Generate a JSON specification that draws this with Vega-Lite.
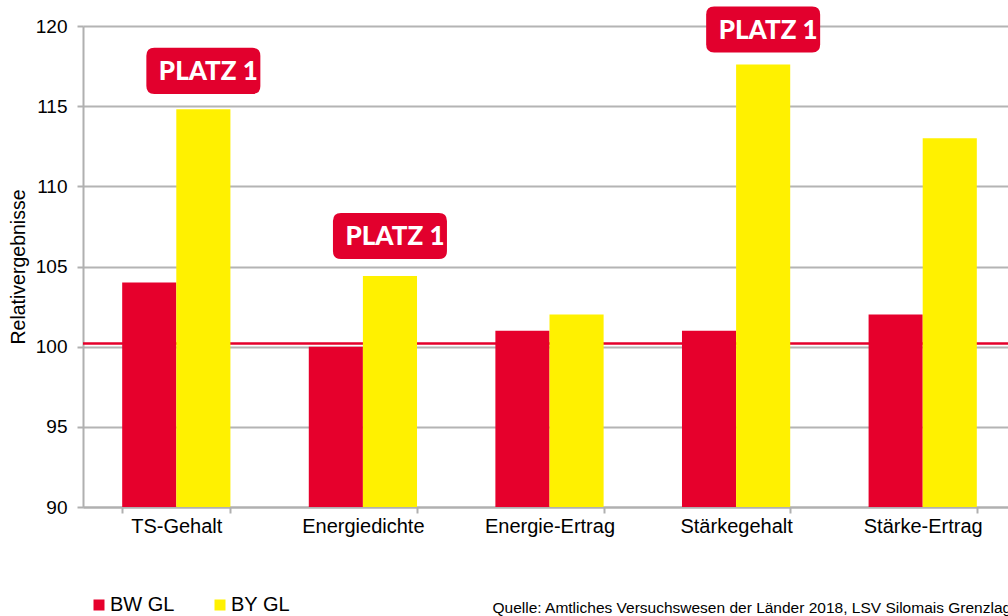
{
  "$schema": "https://vega.github.io/schema/vega-lite/v6.json",
  "width": 925,
  "height": 481,
  "autosize": {"type": "none"},
  "padding": {"left": 83, "top": 26, "right": 0, "bottom": 109},
  "background": "white",
  "config": {
    "font": "Liberation Sans",
    "view": {"stroke": null},
    "axisY": {
      "titleFontSize": 19.5,
      "titleFontWeight": "normal",
      "titleColor": "#000000",
      "titlePadding": 7,
      "labelFontSize": 19,
      "labelColor": "#000000",
      "labelPadding": 10,
      "domainColor": "#b0b0b0",
      "domainWidth": 2,
      "tickColor": "#b0b0b0",
      "tickWidth": 2,
      "tickSize": 6,
      "gridColor": "#b4b4b4",
      "gridWidth": 2
    },
    "axisX": {
      "labelFontSize": 20,
      "labelColor": "#000000",
      "labelPadding": 3,
      "domainColor": "#b0b0b0",
      "domainWidth": 2,
      "tickColor": "#b0b0b0",
      "tickWidth": 2,
      "tickSize": 6
    }
  },
  "datasets": {
    "bars": [
      {"merkmal": "TS-Gehalt", "sorte": "BW GL", "wert": 104.0},
      {"merkmal": "TS-Gehalt", "sorte": "BY GL", "wert": 114.8},
      {"merkmal": "Energiedichte", "sorte": "BW GL", "wert": 100.0},
      {"merkmal": "Energiedichte", "sorte": "BY GL", "wert": 104.4},
      {"merkmal": "Energie-Ertrag", "sorte": "BW GL", "wert": 101.0},
      {"merkmal": "Energie-Ertrag", "sorte": "BY GL", "wert": 102.0},
      {"merkmal": "Stärkegehalt", "sorte": "BW GL", "wert": 101.0},
      {"merkmal": "Stärkegehalt", "sorte": "BY GL", "wert": 117.6},
      {"merkmal": "Stärke-Ertrag", "sorte": "BW GL", "wert": 102.0},
      {"merkmal": "Stärke-Ertrag", "sorte": "BY GL", "wert": 113.0}
    ],
    "badges": [
      {"merkmal": "TS-Gehalt", "sorte": "BY GL", "pos": 117.2, "label": "PLATZ 1"},
      {"merkmal": "Energiedichte", "sorte": "BY GL", "pos": 106.9, "label": "PLATZ 1"},
      {"merkmal": "Stärkegehalt", "sorte": "BY GL", "pos": 119.78, "label": "PLATZ 1"}
    ],
    "ref": [{"wert": 100.2}]
  },
  "encoding": {
    "x": {
      "field": "merkmal",
      "type": "nominal",
      "sort": ["TS-Gehalt", "Energiedichte", "Energie-Ertrag", "Stärkegehalt", "Stärke-Ertrag"],
      "scale": {"range": [0, 933], "paddingInner": 0.42, "paddingOuter": 0.21},
      "axis": {
        "title": "Quelle: Amtliches Versuchswesen der Länder 2018, LSV Silomais Grenzlage",
        "titleFontSize": 15.5,
        "titleFontWeight": "normal",
        "titleColor": "#000000",
        "titleAnchor": "start",
        "titleAlign": "left",
        "titleBaseline": "alphabetic",
        "titleX": 409,
        "titleY": 105.5,
        "labelAngle": 0,
        "tickBand": "extent",
        "grid": false
      }
    }
  },
  "layer": [
    {
      "data": {"name": "ref"},
      "mark": {"type": "rule", "color": "#e4002b", "strokeWidth": 2.5},
      "encoding": {
        "x": null,
        "y": {
          "field": "wert",
          "type": "quantitative",
          "scale": {"domain": [90, 120], "zero": false, "nice": false},
          "axis": {"title": "Relativergebnisse", "values": [90, 95, 100, 105, 110, 115, 120]}
        }
      }
    },
    {
      "data": {"name": "bars"},
      "mark": {"type": "bar"},
      "encoding": {
        "xOffset": {"field": "sorte", "type": "nominal", "scale": {"paddingInner": 0, "paddingOuter": 0}},
        "y": {
          "field": "wert",
          "type": "quantitative",
          "scale": {"domain": [90, 120], "zero": false, "nice": false},
          "axis": {"title": "Relativergebnisse", "values": [90, 95, 100, 105, 110, 115, 120]}
        },
        "y2": {"datum": 90},
        "color": {
          "field": "sorte",
          "type": "nominal",
          "scale": {"domain": ["BW GL", "BY GL"], "range": ["#e6002c", "#fff100"]},
          "legend": {
            "title": null,
            "orient": "none",
            "direction": "horizontal",
            "legendX": 6,
            "legendY": 569,
            "symbolType": "square",
            "symbolSize": 121,
            "symbolStrokeWidth": 0,
            "symbolOpacity": 1,
            "labelFontSize": 20,
            "labelColor": "#000000",
            "labelOffset": 1,
            "columnPadding": 35
          }
        }
      }
    },
    {
      "data": {"name": "badges"},
      "mark": {
        "type": "point",
        "shape": "M -0.86 -0.404 L 0.86 -0.404 Q 1 -0.404 1 -0.264 L 1 0.264 Q 1 0.404 0.86 0.404 L -0.86 0.404 Q -1 0.404 -1 0.264 L -1 -0.264 Q -1 -0.404 -0.86 -0.404 Z",
        "size": 12996,
        "filled": true,
        "fill": "#e2002d",
        "strokeWidth": 0,
        "opacity": 1,
        "xOffset": 5
      },
      "encoding": {
        "xOffset": {"field": "sorte", "type": "nominal"},
        "y": {"field": "pos", "type": "quantitative"}
      }
    },
    {
      "data": {"name": "badges"},
      "mark": {
        "type": "text",
        "font": "Lato",
        "fontWeight": 900,
        "fontSize": 26,
        "color": "#ffffff",
        "baseline": "middle",
        "align": "center",
        "dx": 5,
        "dy": 1
      },
      "encoding": {
        "xOffset": {"field": "sorte", "type": "nominal"},
        "y": {"field": "pos", "type": "quantitative"},
        "text": {"field": "label"}
      }
    }
  ]
}
